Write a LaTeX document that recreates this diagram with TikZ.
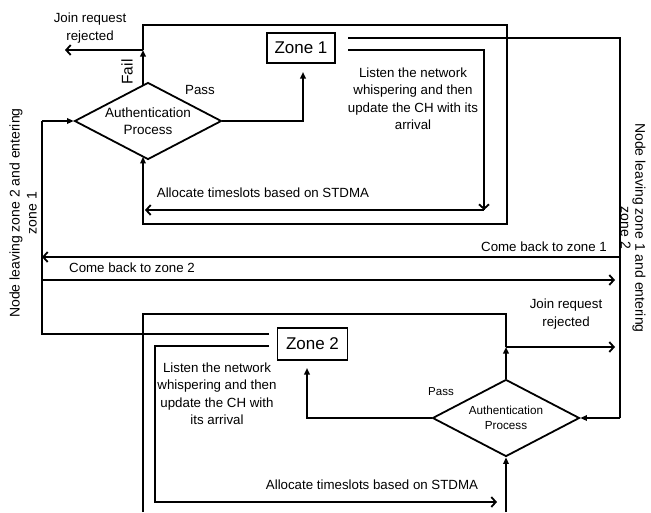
\documentclass[tikz,border=0pt]{standalone}
\usepackage{fontspec}
\setmainfont{Liberation Sans}
\usetikzlibrary{shapes.geometric,arrows.meta}
\begin{document}
\begin{tikzpicture}[x=1pt,y=-1pt,
  ln/.style={line width=1.8pt},
  tri/.style={ln,-{Triangle[length=6.5pt,width=5.5pt]}},
  barb/.style={ln,-{Straight Barb[length=4.5pt,width=10pt]}},
  zonebox/.style={draw,ln,inner sep=0pt,font=\fontsize{17}{20}\selectfont},
  auth/.style={draw,ln,diamond,aspect=1.9,inner sep=0pt,minimum width=147pt,minimum height=77pt,align=center},
  lbl/.style={align=center,inner sep=0pt,font=\fontsize{13.3}{17.5}\selectfont},
  small/.style={align=center,inner sep=0pt,font=\fontsize{11.5}{15}\selectfont},
  side/.style={align=center,inner sep=0pt,font=\fontsize{14}{14.5}\selectfont},
]
\useasboundingbox (0,0) rectangle (651,512);

% ---------- zone 1 part ----------
\node[zonebox,minimum width=68pt,minimum height=30pt] (z1) at (301,48) {Zone 1};
\node[auth,font=\fontsize{13.5}{17}\selectfont] (d1) at (148,121) {Authentication\\Process};

\coordinate (d1n) at (143,85.1);
\coordinate (d1s) at (143,156.9);
\coordinate (f1) at (143,50);
\coordinate (jr1) at (65,50);
\coordinate (o1) at (143,25);
\coordinate (o2) at (507,25);
\coordinate (o3) at (507,224);
\coordinate (o4) at (143,224);
\coordinate (p1) at (303,121);
\coordinate (p1t) at (303,72);
\coordinate (za) at (348,38);
\coordinate (zb) at (348,50);
\coordinate (zb1) at (484,50);
\coordinate (zb2) at (484,210);
\coordinate (al1) at (145,210);
\coordinate (r1) at (620,38);
\coordinate (r2) at (620,418);
\coordinate (cb1s) at (620,257);
\coordinate (cb1e) at (42,257);
\coordinate (l1) at (42,334);
\coordinate (l2) at (42,121);
\coordinate (cb2s) at (42,280);
\coordinate (cb2e) at (615,280);

\draw[tri] (d1n) -- (f1);
\draw[ln] (f1) -- (o1) -- (o2) -- (o3) -- (o4) -- (143,200);
\draw[tri] (143,200) -- (d1s);
\draw[barb] (f1) -- (jr1);
\draw[tri] (d1.east) -- (p1) -- (p1t);
\draw[ln] (zb) -- (zb1) -- (zb2);
\draw[barb] (zb1) -- (zb2);
\draw[barb] (zb2) -- (al1);

% ---------- zone 2 part ----------
\node[zonebox,minimum width=70pt,minimum height=32pt] (z2) at (312.5,344) {Zone 2};
\node[auth,font=\fontsize{11.7}{15}\selectfont] (d2) at (506,418) {Authentication\\Process};

\coordinate (zc) at (269,334);
\coordinate (zd) at (269,346);
\coordinate (zd1) at (155,346);
\coordinate (zd2) at (155,502);
\coordinate (al2) at (497,502);
\coordinate (b1) at (143,512);
\coordinate (b2) at (143,314);
\coordinate (b3) at (506,314);
\coordinate (jj) at (506,347);
\coordinate (jr2) at (615,347);
\coordinate (b4) at (506,512);
\coordinate (p2) at (307,418);
\coordinate (p2t) at (307,368);

\draw[ln] (za) -- (r1) -- (r2);
\draw[tri] (r2) -- (d2.east);
\draw[barb] (cb1s) -- (cb1e);
\draw[ln] (zc) -- (l1) -- (l2);
\draw[tri] (l2) -- (d1.west);
\draw[barb] (cb2s) -- (cb2e);

\draw[ln] (b1) -- (b2) -- (b3) -- (jj);
\draw[tri] (d2.north) -- (jj);
\draw[barb] (jj) -- (jr2);
\draw[tri] (b4) -- (d2.south);
\draw[tri] (d2.west) -- (p2) -- (p2t);
\draw[ln] (zd) -- (zd1) -- (zd2) -- (300,502);
\draw[barb] (300,502) -- (al2);

% ---------- labels ----------
\node[lbl] (t1) at (90,28) {Join request\\rejected};
\node[lbl,rotate=90,font=\fontsize{15.5}{17}\selectfont] (t2) at (127,72) {Fail};
\node[lbl] (t3) at (200,90) {Pass};
\node[lbl] (t4) at (413,98.5) {Listen the network\\whispering and then\\update the CH with its\\arrival};
\node[lbl] (t5) at (263,193) {Allocate timeslots based on STDMA};
\node[lbl] (t6) at (544,247) {Come back to zone 1};
\node[lbl] (t7) at (132,268) {Come back to zone 2};
\node[lbl] (t8) at (566,314) {Join request\\rejected};
\node[small] (t9) at (441,392) {Pass};
\node[lbl] (t10) at (217,393.5) {Listen the network\\whispering and then\\update the CH with\\its arrival};
\node[lbl] (t11) at (372,485) {Allocate timeslots based on STDMA};
\node[side,rotate=90,font=\fontsize{14}{17}\selectfont] (t12) at (23,213) {Node leaving zone 2 and entering\\zone 1};
\node[side,rotate=-90] (t13) at (633,228) {Node leaving zone 1 and entering\\zone 2};
\end{tikzpicture}
\end{document}
